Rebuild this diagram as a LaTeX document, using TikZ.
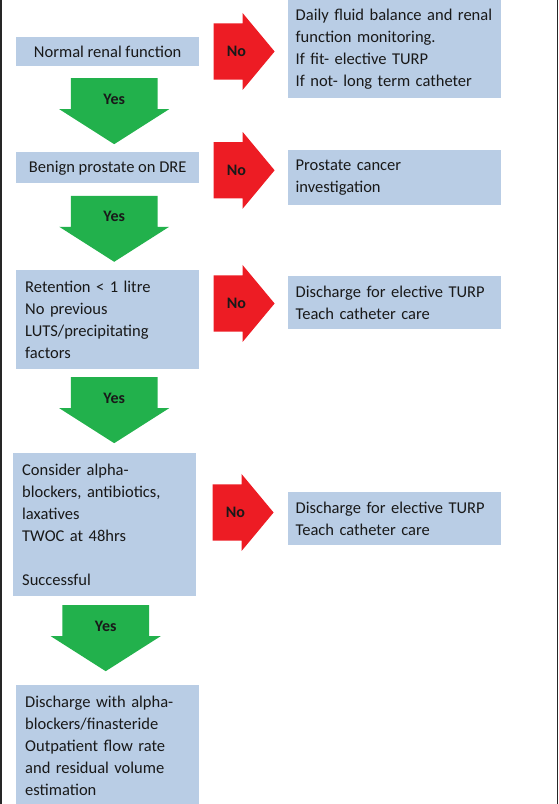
\documentclass[tikz,border=0pt]{standalone}
\usepackage{fontspec}
\setmainfont{Carlito}
\usetikzlibrary{shapes.arrows, calc}
\usetikzlibrary{positioning}

\definecolor{boxBlue}{RGB}{185,205,229}
\definecolor{noRed}{RGB}{237,28,36}
\definecolor{yesGreen}{RGB}{34,177,76}

\begin{document}
\begin{tikzpicture}[x=1pt, y=-1pt,
    font=\fontsize{16.5pt}{22pt}\selectfont,
    box/.style={fill=boxBlue, text=black!90, inner xsep=9pt, inner ysep=8.5pt, anchor=north west},
    midbox/.style={box, minimum width=183pt, align=center},
    leftbox/.style={box, inner ysep=10.5pt, text width=165pt, align=left},
    rightbox/.style={box, inner xsep=7.5pt, inner ysep=9.5pt, text width=198pt, align=left},
    noarrow/.style={single arrow, fill=noRed, inner xsep=0pt, inner ysep=19pt, minimum height=61pt, minimum width=77pt, single arrow tip angle=100.5},
    yesarrow/.style={single arrow, fill=yesGreen, rotate=-90, inner xsep=0pt, inner ysep=26.5pt, minimum height=66pt, minimum width=110pt, single arrow tip angle=115, anchor=tail},
    tag/.style={font=\fontsize{16pt}{18pt}\selectfont\bfseries, text=black!90, inner sep=0pt}]
	\useasboundingbox (0,0) rectangle (558,804);
	
	% Frame
	\draw[line width=1.5pt, black!85] (0.75,0) -- (0.75,804);
	\draw[line width=1.5pt, black!85] (557.25,0) -- (557.25,804);
	
	% Left column
	\node[midbox] (b1) at (16,37) {Normal renal function};
	\node[midbox] (b2) at (16,152) {Benign prostate on DRE};
	\node[leftbox] (b3) at (16,270) {Retention < 1 litre\\No previous\\LUTS/precipitating\\factors};
	\node[leftbox] (b4) at (13,453) {Consider alpha-\\blockers, antibiotics,\\laxatives\\TWOC at 48hrs\\[22pt]Successful};
	\node[leftbox] (b5) at (16,685) {Discharge with alpha-\\blockers/finasteride\\Outpatient flow rate\\and residual volume\\estimation};
	
	% Right column
	\node[rightbox] (r1) at (288,-1) {Daily fluid balance and renal\\function monitoring.\\If fit- elective TURP\\If not- long term catheter};
	\node[rightbox] (r2) at (288,150) {Prostate cancer\\investigation};
	\node[rightbox] (r3) at (288,276) {Discharge for elective TURP\\Teach catheter care};
	\node[rightbox] (r4) at (288,492) {Discharge for elective TURP\\Teach catheter care};
	
	% No arrows
	\node[noarrow, right=14pt of b1, anchor=tail] (n1) {};
	\node[noarrow, right=14pt of b2, anchor=tail, yshift=-2.5pt] (n2) {};
	\node[noarrow, right=14pt of b3, anchor=tail, yshift=16pt] (n3) {};
	\node[noarrow, right=16pt of b4, anchor=tail, yshift=12pt] (n4) {};
	\node[tag] (l1) at ($(n1.tail)+(23,0)$) {No};
	\node[tag] (l2) at ($(n2.tail)+(23,0)$) {No};
	\node[tag] (l3) at ($(n3.tail)+(23,0)$) {No};
	\node[tag] (l4) at ($(n4.tail)+(23,0)$) {No};
	
	% Yes arrows
	\node[yesarrow] (g1) at ($(b1.south)+(6.5,12)$) {};
	\node[yesarrow] (g2) at ($(b2.south)+(6.5,12)$) {};
	\node[yesarrow] (g3) at ($(b3.south)+(6.5,8)$) {};
	\node[yesarrow] (g4) at ($(b4.south)+(1,9)$) {};
	\node[tag] (y1) at ($(g1.tail)+(0,21)$) {Yes};
	\node[tag] (y2) at ($(g2.tail)+(0,21)$) {Yes};
	\node[tag] (y3) at ($(g3.tail)+(0,21)$) {Yes};
	\node[tag] (y4) at ($(g4.tail)+(0,21)$) {Yes};
\end{tikzpicture}
\end{document}
